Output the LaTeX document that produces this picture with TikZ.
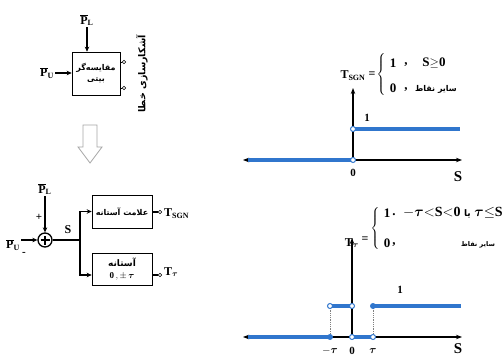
\documentclass[tikz,border=0pt]{standalone}
\usepackage{fontspec}
\usepackage{bm}
\setmainfont{Liberation Serif}
\newfontfamily\fa[Script=Arabic]{DejaVu Sans}
\TeXXeTstate=1
\usetikzlibrary{arrows.meta}
\definecolor{pblue}{RGB}{48,118,205}
\newcommand{\fatext}[1]{{\fa\bfseries\beginR #1\endR}}
\newcommand{\Pbar}{\overline{\mathbf{P}}}
\newcommand{\btau}{\bm{\tau}}
\newcommand{\bigbrace}{$\nulldelimiterspace=0pt\left\{\vrule height 20pt depth 20pt width 0pt\right.$}
\begin{document}
\begin{tikzpicture}[x=1pt,y=-1pt,
  conn/.style={draw, line width=1.2pt, -{Stealth[length=5pt,width=4.5pt]}},
  wire/.style={line width=1.2pt},
  blk/.style={draw, line width=0.6pt, inner sep=1pt, align=center},
  port/.style={circle, draw, fill=white, line width=0.6pt, inner sep=0pt, minimum size=3.5pt},
  axisline/.style={line width=1.1pt},
  pb/.style={pblue, line width=3.5pt},
  pdot/.style={circle, draw=pblue, fill=white, line width=1pt, inner sep=0pt, minimum size=5pt},
  fdot/.style={circle, fill=pblue, inner sep=0pt, minimum size=6pt},
  lab/.style={font=\fontsize{12}{14}\selectfont\bfseries, inner sep=1pt},
  rowf/.style={font=\fontsize{13}{15}\selectfont\bfseries, inner sep=0pt},
  small/.style={font=\fontsize{11}{13}\selectfont\bfseries, inner sep=0pt},
]
\useasboundingbox (0,0) rectangle (503,358);

% ---------- top block ----------
\node[blk, minimum width=48pt, minimum height=43pt, font=\fontsize{8}{11}\selectfont] (cmp) at (96,73.5) {\fatext{مقایسه‌گر}\\\fatext{بیتی}};
\node[lab] (plt) at (87,20) {$\Pbar_{\mathbf{L}}$};
\draw[conn] (plt.south) -- (plt.south |- cmp.north);
\node[lab] (put) at (47,73) {$\Pbar_{\mathbf{U}}$};
\draw[conn] (put.east) -- (cmp.west |- put.east);
\node[port] (c1) at (124,62) {};
\node[port] (c2) at (124,88) {};
\draw[line width=0.6pt] (cmp.east |- c1) -- (c1);
\draw[line width=0.6pt] (cmp.east |- c2) -- (c2);
\node[rotate=90, font=\fontsize{9.5}{11}\selectfont] (det) at (142,74) {\fatext{آشکارسازی خطا}};

% hollow arrow
\draw[gray!70, line width=0.8pt, fill=white] (83,125) -- (97,125) -- (97,147) -- (102,147) -- (90,163) -- (78,147) -- (83,147) -- cycle;

% ---------- lower block ----------
\node[lab] (plb) at (45,189) {$\Pbar_{\mathbf{L}}$};
\node[circle, draw, line width=1.3pt, minimum size=14pt, inner sep=0pt] (sum) at (45,240) {};
\draw[line width=1.3pt] ([xshift=-4.5pt]sum.center) -- ([xshift=4.5pt]sum.center);
\draw[line width=1.3pt] ([yshift=-4.5pt]sum.center) -- ([yshift=4.5pt]sum.center);
\draw[conn] (plb.south) -- (sum.north);
\node[small] (pplus) at (39,217) {+};
\node[lab] (pub) at (13,245) {$\Pbar_{\mathbf{U}}$};
\draw[conn] (pub.east |- sum) -- (sum.west);
\node[small] (pminus) at (24,254) {-};
\node[lab] (slab) at (68,230) {S};
\coordinate (br) at (80,240);
\draw[wire] (sum.east) -- (br);
\node[blk, minimum width=60pt, minimum height=33pt, font=\fontsize{8}{10}\selectfont] (sgn) at (122,211.5) {\fatext{علامت آستانه}};
\node[blk, minimum width=60pt, minimum height=32pt, font=\fontsize{9}{12}\selectfont] (thr) at (122,269) {\fatext{آستانه}\\ $\mathbf{0}\,,\pm\,\btau$};
\draw[conn] (br) |- (sgn.west);
\draw[conn] (br) |- ([yshift=-6pt]thr.west);
\node[port] (o3) at (160,212) {};
\draw[wire] (sgn.east |- o3) -- (o3);
\node[port] (o4) at (160,275) {};
\draw[wire] (thr.east |- o4) -- (o4);
\node[lab, anchor=west] (tsgn) at (163,214) {$\mathbf{T}_{\mathbf{SGN}}$};
\node[lab, anchor=west] (ttau) at (163,272) {$\mathbf{T}_{\btau}$};

% ---------- top graph ----------
\draw[axisline, {Stealth[length=6pt]}-{Stealth[length=6pt]}] (243,160) -- (462,160);
\draw[axisline, -{Stealth[length=6pt]}] (353,160) -- (353,88);
\draw[pb] (248,160) -- (353,160);
\draw[pb] (353,129) -- (460,129);
\node[pdot] (g1a) at (353,129) {};
\node[pdot] (g1b) at (353,160) {};
\node[small] (g1one) at (367,118) {1};
\node[small] (g1zero) at (353,173) {0};
\node[font=\fontsize{15}{17}\selectfont\bfseries] (g1s) at (458,177) {S};

\node[lab] (f1t) at (353,76) {$\mathbf{T}_{\mathbf{SGN}}$};
\node[lab] (f1eq) at (372,75) {=};
\node[inner sep=0pt] (f1br) at (381,75.5) {\bigbrace};
\node[rowf] (f1r1a) at (393,63) {1};
\node[rowf] (f1r1b) at (406,65) {,};
\node[rowf] (f1r1c) at (434,63) {$\mathbf{S}{\geq}\mathbf{0}$};
\node[rowf] (f1r2a) at (393,88) {0};
\node[rowf] (f1r2b) at (406,90) {,};
\node[font=\fontsize{8}{9}\selectfont, inner sep=0pt] (f1r2c) at (436,89) {\fatext{سایر نقاط}};

% ---------- bottom graph ----------
\draw[axisline, {Stealth[length=6pt]}-{Stealth[length=6pt]}] (243,337) -- (462,337);
\draw[axisline, -{Stealth[length=6pt]}] (352,337) -- (352,238);
\draw[gray, densely dotted, line width=0.8pt] (330,306) -- (330,337);
\draw[gray, densely dotted, line width=0.8pt] (373,306) -- (373,337);
\draw[pb] (248,337) -- (330,337);
\draw[pb] (330,306) -- (352,306);
\draw[pb] (352,337) -- (373,337);
\draw[pb] (373,306) -- (461,306);
\node[pdot] (g2a) at (330,306) {};
\node[pdot] (g2b) at (352,306) {};
\node[fdot] (g2c) at (373,306) {};
\node[fdot] (g2d) at (330,337) {};
\node[pdot] (g2e) at (352,337) {};
\node[pdot] (g2f) at (373,337) {};
\node[small] (g2one) at (400,290) {1};
\node[small] (g2mt) at (330,351) {$-\btau$};
\node[small] (g2zero) at (352,351) {0};
\node[small] (g2t) at (373,351) {$\btau$};
\node[font=\fontsize{15}{17}\selectfont\bfseries] (g2s) at (458,349) {S};

\node[lab] (f2t) at (352,243) {$\mathbf{T}_{\btau}$};
\node[lab] (f2eq) at (365,240) {=};
\node[inner sep=0pt] (f2br) at (375,229.5) {\bigbrace};
\node[rowf] (f2r1a) at (387,213) {1};
\node[rowf] (f2r1b) at (394,215) {.};
\node[rowf, anchor=west, font=\fontsize{14}{16}\selectfont\bfseries] (f2r1c) at (403,213) {$-\btau{<}\mathbf{S}{<}\mathbf{0}$ {\fontsize{9}{10}\selectfont\fatext{یا}} $\btau{\leq}\mathbf{S}$};
\node[rowf] (f2r2a) at (387,243) {0};
\node[rowf] (f2r2b) at (394,245) {,};
\node[font=\fontsize{6.5}{8}\selectfont, inner sep=0pt] (f2r2c) at (478,245) {\fatext{سایر نقاط}};
\end{tikzpicture}
\end{document}
